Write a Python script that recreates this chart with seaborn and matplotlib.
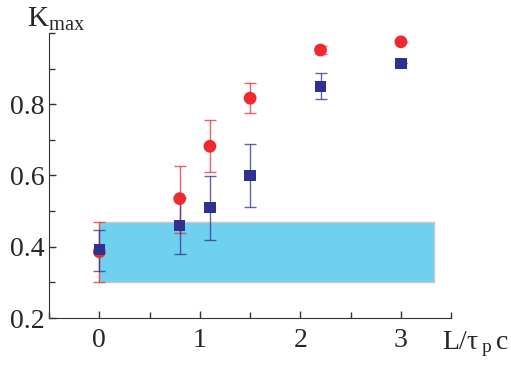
import matplotlib
matplotlib.use('Agg')
import pandas as pd
import seaborn as sns
import matplotlib.pyplot as plt
from matplotlib.ticker import MultipleLocator

# data
red_x = [0, 0.8, 1.1, 1.5, 2.2, 3.0]
red_y = [0.386, 0.535, 0.682, 0.817, 0.952, 0.975]
red_lo = [0.30, 0.44, 0.61, 0.775, 0.942, 0.975]
red_hi = [0.47, 0.627, 0.755, 0.86, 0.962, 0.975]

blue_x = [0, 0.8, 1.1, 1.5, 2.2, 3.0]
blue_y = [0.392, 0.46, 0.51, 0.60, 0.85, 0.915]
blue_lo = [0.333, 0.38, 0.42, 0.513, 0.814, 0.915]
blue_hi = [0.448, 0.538, 0.598, 0.687, 0.887, 0.915]

band_x = [0, 3.33]
band_y = [0.30, 0.47]

sns.set_style('ticks')
plt.rcParams['font.family'] = ['Liberation Serif', 'DejaVu Serif']
plt.rcParams['mathtext.fontset'] = 'custom'
plt.rcParams['mathtext.rm'] = 'Liberation Serif'
plt.rcParams['mathtext.it'] = 'Liberation Serif:italic'
plt.rcParams['font.size'] = 20

df = pd.concat([
    pd.DataFrame({'L': red_x, 'K': red_y, 'lo': red_lo, 'hi': red_hi, 'set': 'red'}),
    pd.DataFrame({'L': blue_x, 'K': blue_y, 'lo': blue_lo, 'hi': blue_hi, 'set': 'blue'}),
])

red_c = '#ee2a2f'
blue_c = '#2e3192'

fig = plt.figure(figsize=(5.11, 3.66), dpi=100)
ax = fig.add_axes([0.096, 0.131, 0.787, 0.779])

ax.fill_between(band_x, band_y[0], band_y[1], color='#6fd0f0', ec='#c8c8c8', lw=1, zorder=1)

for name, c in [('red', red_c), ('blue', blue_c)]:
    d = df[df['set'] == name]
    ax.errorbar(d['L'], d['K'], yerr=[d['K'] - d['lo'], d['hi'] - d['K']],
                fmt='none', ecolor=c, elinewidth=1, capsize=4.5, capthick=1, alpha=0.75, zorder=2)

sns.scatterplot(data=df, x='L', y='K', hue='set', style='set',
                palette={'red': red_c, 'blue': blue_c},
                markers={'red': 'o', 'blue': 's'}, size='set',
                sizes={'red': 85, 'blue': 68}, linewidth=0,
                legend=False, ax=ax, zorder=3)

ax.set_xlim(-0.5, 3.5)
ax.set_ylim(0.2, 1.0)
ax.set_xticks([0, 1, 2, 3])
ax.set_yticks([0.2, 0.4, 0.6, 0.8])
ax.set_yticklabels(['0.2', '0.4', '0.6', '0.8'])
ax.xaxis.set_minor_locator(MultipleLocator(0.5))
ax.yaxis.set_minor_locator(MultipleLocator(0.1))
ax.tick_params(which='both', direction='in', color='#333333', width=1)
ax.tick_params(which='major', length=5)
ax.tick_params(which='minor', length=4)
ax.tick_params(axis='x', which='major', pad=7)
ax.tick_params(axis='y', which='major', pad=3)
for s in ['left', 'bottom']:
    ax.spines[s].set_color('#333333')
sns.despine(ax=ax)
ax.set_xlabel('')
ax.set_ylabel('')

fig.text(0.052, 0.985, r'K$_{\rm max}$', fontsize=21, va='top', ha='left')
fig.text(0.995, 0.02, r'L/$\mathrm{\tau}\,_{\rm p}\,$c', fontsize=20, va='bottom', ha='right')

plt.savefig('out.png', dpi=100)
